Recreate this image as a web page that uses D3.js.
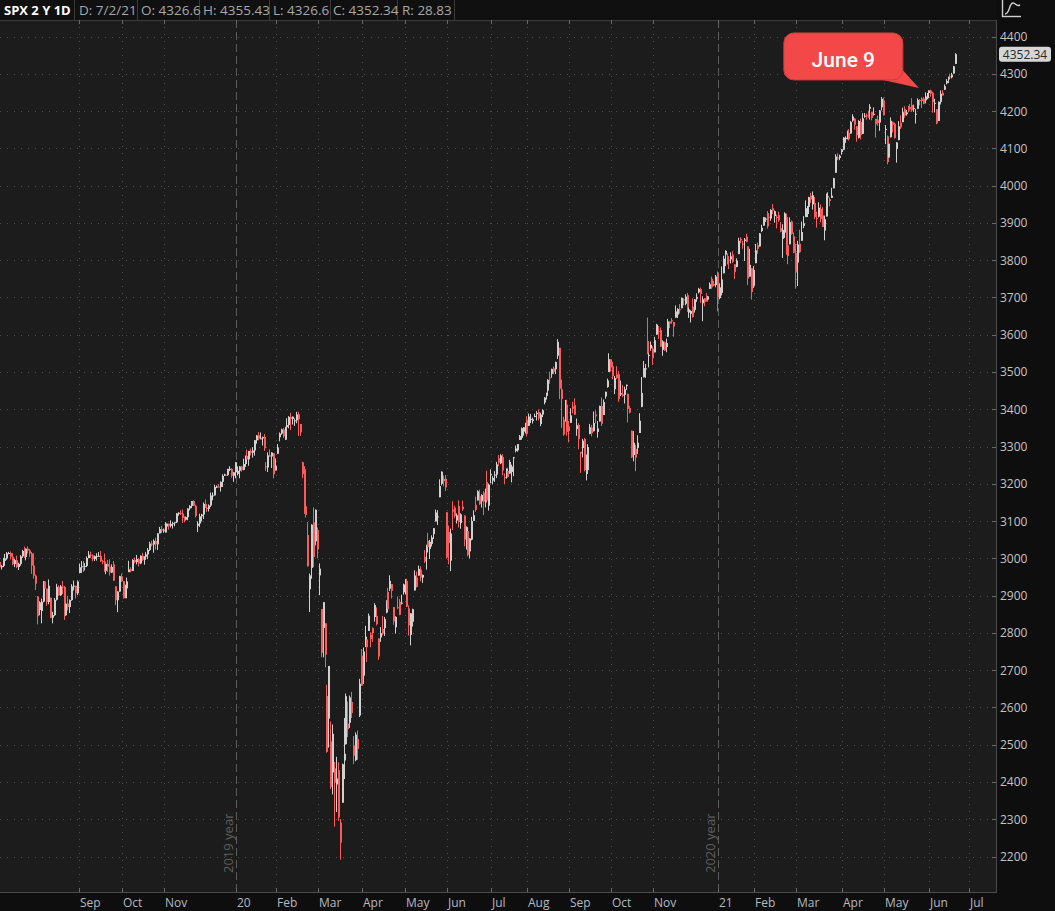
<!DOCTYPE html>
<html><head><meta charset="utf-8">
<script src="https://cdn.jsdelivr.net/npm/d3@7/dist/d3.min.js"></script>
<style>
html,body{margin:0;padding:0;background:#0e0e0e;overflow:hidden}
svg{display:block}
text{font-family:"Open Sans","DejaVu Sans",sans-serif}
</style></head><body>
<svg id="chart" width="1055" height="911"></svg>
<script>
// ---------- DATA (SPX daily, 2019-07-02 .. 2021-07-02, one entry per trading day) ----------
const closes = [
// Jul 2019
2973.01,2995.82,2990.41,2975.95,2979.63,2993.07,2999.91,3013.77,3014.30,3004.04,2984.42,2995.11,2976.61,2985.03,3005.47,3019.56,3003.67,3025.86,3020.97,3013.18,2980.38,
// Aug 2019
2953.56,2932.05,2844.74,2881.77,2883.98,2938.09,2918.65,2882.70,2926.32,2840.60,2847.60,2888.68,2923.65,2900.51,2924.43,2922.95,2847.11,2878.38,2869.16,2887.94,2924.58,2926.46,
// Sep 2019
2906.27,2937.78,2976.00,2978.71,2978.43,2979.39,3000.93,3009.57,3007.39,2997.96,3005.70,3006.73,3006.79,2992.07,2991.78,2966.60,2984.87,2977.62,2961.79,2976.74,
// Oct 2019
2940.25,2887.61,2910.63,2952.01,2938.79,2893.06,2919.40,2938.13,2970.27,2966.15,2995.68,2989.69,2997.95,2986.20,3006.72,2995.99,3004.52,3010.29,3022.55,3039.42,3036.89,3046.77,3037.56,
// Nov 2019
3066.91,3078.27,3074.62,3076.78,3085.18,3093.08,3087.01,3091.84,3094.04,3096.63,3120.46,3122.03,3120.18,3108.46,3103.54,3110.29,3133.64,3140.52,3153.63,3140.98,
// Dec 2019
3113.87,3093.20,3112.76,3117.43,3145.91,3135.96,3132.52,3141.63,3168.57,3168.80,3191.45,3192.52,3191.14,3205.37,3221.22,3224.01,3223.38,3239.91,3240.02,3221.29,3230.78,
// Jan 2020
3257.85,3234.85,3246.28,3237.18,3253.05,3274.70,3265.35,3288.13,3283.15,3289.29,3316.81,3329.62,3320.79,3321.75,3325.54,3295.47,3243.63,3276.24,3273.40,3283.66,3225.52,
// Feb 2020
3248.92,3297.59,3334.69,3345.78,3327.71,3352.09,3357.75,3379.45,3373.94,3380.16,3370.29,3386.15,3373.23,3337.75,3225.89,3128.21,3116.39,2978.76,2954.22,
// Mar 2020
3090.23,3003.37,3130.12,3023.94,2972.37,2746.56,2882.23,2741.38,2480.64,2711.02,2386.13,2529.19,2398.10,2409.39,2304.92,2237.40,2447.33,2475.56,2630.07,2541.47,2626.65,2584.59,
// Apr 2020
2470.50,2526.90,2488.65,2663.68,2659.41,2749.98,2789.82,2761.63,2846.06,2783.36,2799.55,2874.56,2823.16,2736.56,2799.31,2797.80,2836.74,2878.48,2863.39,2939.51,2912.43,
// May 2020
2830.71,2842.74,2868.44,2848.42,2881.19,2929.80,2930.32,2870.12,2820.00,2852.50,2863.70,2953.91,2922.94,2971.61,2948.51,2955.45,2991.77,3036.13,3029.73,3044.31,
// Jun 2020
3055.73,3080.82,3122.87,3112.35,3193.93,3232.39,3207.18,3190.14,3002.10,3041.31,3066.59,3124.74,3113.49,3115.34,3097.74,3117.86,3131.29,3050.33,3083.76,3009.05,3053.24,3100.29,
// Jul 2020
3115.86,3130.01,3179.72,3145.32,3169.94,3152.05,3185.04,3155.22,3197.52,3226.56,3215.57,3224.73,3251.84,3257.30,3276.02,3235.66,3215.63,3239.41,3218.44,3258.44,3246.22,3271.12,
// Aug 2020
3294.61,3306.51,3327.77,3349.16,3351.28,3360.47,3333.69,3380.35,3373.43,3372.85,3381.99,3389.78,3374.85,3385.51,3397.16,3431.28,3443.62,3478.73,3484.55,3508.01,3500.31,
// Sep 2020
3526.65,3580.84,3455.06,3426.96,3331.84,3398.96,3339.19,3340.97,3383.54,3401.20,3385.49,3357.01,3319.47,3281.06,3315.57,3236.92,3246.59,3298.46,3351.60,3335.47,3363.00,
// Oct 2020
3380.80,3348.42,3408.60,3360.97,3419.44,3446.83,3477.14,3534.22,3511.93,3488.67,3483.34,3483.81,3426.92,3443.12,3435.56,3453.49,3465.39,3400.97,3390.68,3271.03,3310.11,3269.96,
// Nov 2020
3310.24,3369.16,3443.44,3510.45,3509.44,3550.50,3545.53,3572.66,3537.01,3585.15,3626.91,3609.53,3567.79,3581.87,3557.54,3577.59,3635.41,3629.65,3638.35,3621.63,
// Dec 2020
3662.45,3669.01,3666.72,3699.12,3691.96,3702.25,3672.82,3668.10,3663.46,3647.49,3694.62,3701.17,3722.48,3709.41,3694.92,3687.26,3690.01,3703.06,3735.36,3727.04,3732.04,3756.07,
// Jan 2021
3700.65,3726.86,3748.14,3803.79,3824.68,3799.61,3801.19,3809.84,3795.54,3768.25,3798.91,3851.85,3853.07,3841.47,3855.36,3849.62,3750.77,3787.38,3714.24,
// Feb 2021
3773.86,3826.31,3830.17,3871.74,3886.83,3915.59,3911.23,3909.88,3916.38,3934.83,3932.59,3931.33,3913.97,3906.71,3876.50,3881.37,3925.43,3829.34,3811.15,
// Mar 2021
3901.82,3870.29,3819.72,3768.47,3841.94,3821.35,3875.44,3898.81,3939.34,3943.34,3968.94,3962.71,3974.12,3915.46,3913.10,3940.59,3910.52,3889.14,3909.52,3974.54,3971.09,3958.55,3972.89,
// Apr 2021
4019.87,4077.91,4073.94,4079.95,4097.17,4128.80,4127.99,4141.59,4124.66,4170.42,4185.47,4163.26,4134.94,4173.42,4134.98,4180.17,4187.62,4186.72,4183.18,4211.47,4181.17,
// May 2021
4192.66,4164.66,4167.59,4201.62,4232.60,4188.43,4152.10,4063.04,4112.50,4173.85,4163.29,4127.83,4115.68,4159.12,4155.86,4197.05,4188.13,4195.99,4200.88,4204.11,
// Jun 2021
4202.04,4208.12,4192.85,4229.89,4226.52,4227.26,4219.55,4239.18,4247.44,4255.15,4246.59,4223.70,4221.86,4166.45,4224.79,4246.44,4241.84,4266.49,4280.70,4290.61,4291.80,4297.50,
// Jul 2021
4319.94,4352.34
];

// opening prices (null = opened at the prior close)
const opens = [
// Jul 2019
2964.66,null,null,null,null,null,null,null,null,null,null,null,null,null,null,null,null,null,null,null,null,
// Aug 2019
null,null,2898.07,2861.18,2858.65,null,null,null,null,2894.15,null,null,null,null,null,null,null,null,null,null,null,null,
// Sep 2019
null,null,2960.60,null,null,null,null,null,null,null,null,null,null,null,null,null,null,null,null,null,
// Oct 2019
2983.69,2924.78,null,null,null,null,null,null,2963.07,null,null,null,null,null,null,null,null,null,null,null,null,null,null,
// Nov 2019
null,null,null,null,null,null,null,null,null,null,null,null,null,null,null,null,null,null,null,null,
// Dec 2019
null,3087.41,null,null,null,null,null,null,null,null,null,null,null,null,null,null,null,null,null,null,null,
// Jan 2020
null,3226.36,null,null,null,null,null,null,null,null,null,null,null,null,null,null,3247.16,null,null,null,3282.33,
// Feb 2020
3235.66,3280.61,3324.91,null,null,3318.28,null,null,null,null,3369.04,null,null,3360.50,3257.61,3238.94,3139.90,3062.54,2916.90,
// Mar 2020
2974.28,3096.46,3045.75,3075.70,2954.20,2863.89,2813.48,2825.60,2630.86,2569.99,2508.59,2425.66,2436.50,2393.48,2431.94,2290.71,2344.44,2457.77,2501.29,2555.87,2558.98,2614.69,
// Apr 2020
2498.08,2458.54,2514.92,2578.28,2738.65,2685.00,2776.99,2782.46,2805.10,2795.64,2812.64,2842.43,2845.62,2784.81,2787.89,2810.42,2812.64,2854.65,2909.96,2918.46,2930.91,
// May 2020
2869.09,2815.01,2868.88,2883.14,2878.26,2908.83,2915.46,2939.50,2865.86,2794.54,2829.95,2913.86,2948.59,2953.63,2969.95,2948.05,3004.08,3015.65,3046.61,3025.17,
// Jun 2020
3038.78,3064.78,3098.90,3111.56,3163.84,3199.92,3213.32,3213.42,3123.53,3071.04,2993.76,3131.00,3136.13,3101.64,3140.29,3094.42,3138.70,3114.40,3046.60,3073.20,3018.59,3050.20,
// Jul 2020
null,3143.64,3155.29,3166.44,3153.07,3176.17,3152.47,3205.08,3141.11,3225.98,3208.36,3224.21,3224.29,3268.52,3254.86,3271.64,3218.58,3219.84,3234.27,3227.22,3231.76,3270.45,
// Aug 2020
3288.26,3289.92,3317.37,3323.17,3340.05,3356.04,3370.34,3355.46,3372.95,3368.66,3380.86,3387.04,3392.51,3360.48,3386.01,3418.09,3435.95,3449.97,3485.14,3494.69,3509.73,
// Sep 2020
3507.44,3543.76,3564.74,3453.60,3371.88,3369.82,3412.56,3352.70,3363.56,3407.73,3411.23,3346.86,3357.38,3285.57,3295.75,3320.11,3226.14,3236.66,3333.90,3350.92,3341.21,
// Oct 2020
3385.87,3338.94,3367.27,3408.74,3384.56,3434.28,3459.67,3500.02,3534.01,3515.47,3453.72,3493.50,3493.66,3439.38,3439.91,3438.50,3464.90,3441.42,3403.15,3342.48,3277.17,3293.59,
// Nov 2020
3296.20,3336.25,3406.46,3485.74,3508.34,3583.04,3543.26,3563.22,3562.67,3552.57,3600.16,3610.31,3612.09,3559.41,3579.31,3566.82,3594.52,3635.50,3638.55,3634.18,
// Dec 2020
3645.87,3653.78,3668.28,3670.94,3694.73,3683.05,3705.98,3659.13,3656.08,3675.27,3666.41,3696.25,3713.65,3722.39,3684.28,3698.08,3693.42,3694.03,3723.03,3750.01,3736.19,3733.27,
// Jan 2021
3764.61,3698.02,3712.20,3764.71,3815.05,3803.14,3801.62,3802.23,3814.98,3788.73,3781.88,3816.22,3857.46,3844.24,3851.68,3862.96,3836.83,3755.75,3778.05,
// Feb 2021
3731.17,3791.84,3840.27,3836.66,3878.30,3892.59,3910.49,3920.78,3916.40,3911.65,3939.61,3918.50,3915.86,3921.16,3885.55,3857.07,3873.71,3915.80,3839.66,
// Mar 2021
3842.51,3903.64,3863.99,3818.53,3793.58,3844.39,3851.93,3891.99,3915.54,3924.52,3942.96,3973.59,3949.57,3953.50,3913.14,3916.48,3937.60,3919.93,3879.34,3917.12,3969.31,3963.34,3967.25,
// Apr 2021
3992.78,4034.44,4075.57,4074.29,4089.95,4096.11,4124.71,4130.10,4141.58,4139.76,4174.14,4179.80,4159.18,4128.42,4170.46,4138.78,4185.03,4188.25,4185.14,4206.14,4198.10,
// May 2021
4191.98,4179.04,4177.06,4169.14,4210.34,4228.29,4150.34,4130.55,4074.99,4129.58,4169.92,4165.94,4098.45,4121.97,4168.61,4170.16,4205.94,4191.59,4201.94,4210.77,
// Jun 2021
4216.52,4206.82,4191.43,4206.05,4229.34,4233.81,4232.99,4228.56,4242.90,4248.31,4255.28,4248.87,4220.37,4204.78,4173.40,4224.61,4249.27,4256.97,4274.45,4284.90,4293.21,4290.65,
// Jul 2021
4300.73,4326.60
];

// high above the candle body, in index points
const upperWicks = [
0,2,4,6,3,8,12,3,3,4,10,3,12,3,3,3,12,0,6,4,4,
33,3,0,3,8,1,0,0,17,0,9,5,8,4,4,15,3,1,21,2,6,14,
0,3,10,14,14,8,4,10,8,3,2,7,10,13,4,21,2,11,20,7,
9,0,1,1,7,0,10,10,23,6,2,6,11,3,1,8,1,6,5,5,8,4,9,
0,6,9,3,12,0,0,10,4,0,1,2,7,11,4,2,0,2,0,2,
3,6,7,2,4,12,8,3,8,8,6,3,7,1,4,3,2,0,7,2,1,
0,12,1,2,14,1,17,0,6,9,0,1,9,16,1,8,11,8,16,1,0,
19,9,3,2,4,1,18,2,11,0,5,7,7,0,2,8,43,35,5,
1,40,1,7,14,0,0,0,30,0,54,25,17,58,21,10,2,96,7,60,5,27,
25,6,23,13,18,11,29,0,6,6,2,5,23,1,16,35,6,9,11,15,0,
0,2,29,8,21,2,14,6,8,0,1,14,16,9,9,1,18,0,22,5,
6,0,8,17,18,1,9,10,0,17,13,22,5,5,15,3,16,1,2,1,1,11,
13,22,3,18,2,4,2,30,3,12,5,9,7,9,3,8,9,2,9,6,5,1,
8,0,3,2,1,3,11,8,14,5,6,5,7,5,3,1,1,2,16,1,5,
1,7,0,26,8,26,13,16,19,12,18,18,5,0,5,3,32,8,9,7,31,
11,20,1,23,7,0,5,16,0,12,6,22,9,34,25,7,1,0,6,0,31,11,
20,20,43,19,12,63,12,9,6,9,2,13,7,3,2,12,7,0,6,0,
16,2,14,0,3,6,6,10,2,22,1,10,3,4,8,0,18,1,5,6,8,4,
5,11,35,8,2,15,9,11,9,0,6,8,4,8,4,8,0,43,0,
10,17,7,1,8,0,3,11,10,2,11,2,6,9,17,15,3,9,21,
13,3,10,25,10,37,28,19,21,2,1,7,10,16,17,15,12,22,10,4,11,5,21,
1,6,11,3,1,1,4,6,10,3,6,1,0,2,9,14,7,5,16,7,0,
17,0,11,1,5,8,10,4,19,9,2,3,1,14,20,12,7,7,12,8,
18,9,13,4,3,3,4,11,1,0,2,3,11,0,1,9,7,5,5,2,7,5,
1,3
];

// low below the candle body, in index points
const lowerWicks = [
9,6,8,10,6,3,3,4,3,7,3,8,3,8,5,4,3,9,8,9,22,
8,17,22,14,33,2,18,10,6,1,15,2,2,1,1,19,12,2,9,16,2,11,
14,5,0,15,15,11,3,1,7,6,5,12,2,2,8,3,9,14,8,1,
1,13,32,0,2,1,0,6,0,4,0,3,6,8,2,3,13,7,12,3,5,22,14,
15,0,7,6,8,16,10,4,12,8,2,6,4,14,7,2,8,5,6,1,
4,17,9,14,12,0,8,7,4,13,0,3,0,12,14,0,0,2,6,5,16,
16,4,20,5,1,8,0,17,7,13,14,9,4,0,19,7,9,12,1,31,11,
0,0,11,3,5,1,6,9,30,15,14,8,45,9,11,9,7,1,61,
29,27,11,24,53,12,79,34,2,78,5,59,118,74,9,46,0,50,1,21,14,13,
23,3,29,4,2,22,15,40,0,22,24,12,3,9,12,4,21,2,3,6,20,
9,17,5,1,2,6,12,0,27,28,13,0,1,0,10,14,4,46,6,27,
7,13,0,22,0,4,14,9,3,57,28,49,5,8,15,15,4,18,23,4,19,2,
0,5,0,2,17,36,16,6,13,25,10,19,9,10,2,13,16,6,2,0,28,50,
4,4,0,5,11,21,7,0,10,7,2,17,5,6,7,5,10,6,16,10,7,
13,9,28,77,3,3,10,30,0,12,1,18,27,52,25,4,17,8,1,8,1,
19,15,0,6,0,6,2,0,11,8,13,3,7,4,3,23,13,36,2,2,17,36,
16,0,1,0,24,3,31,6,18,0,0,21,0,16,1,14,0,12,9,27,
0,9,10,0,13,4,12,14,23,2,7,8,3,24,48,11,1,5,0,4,2,6,
38,3,7,0,31,11,25,11,3,19,1,0,8,11,54,2,18,0,20,
6,0,13,0,3,0,8,25,26,6,9,18,29,4,2,51,14,15,22,
0,2,1,45,63,2,0,6,0,9,19,9,14,5,26,2,9,0,26,0,26,14,0,
0,0,6,6,7,1,10,6,4,0,3,13,17,2,11,0,3,10,1,29,6,
4,36,7,22,9,0,39,6,0,0,21,2,37,0,4,0,6,4,4,1,
4,9,25,0,11,19,1,8,11,14,8,28,24,2,0,7,0,0,3,10,6,3,
0,0
];

// axis content
const priceTicks = [2200,2300,2400,2500,2600,2700,2800,2900,3000,3100,3200,3300,3400,3500,3600,3700,3800,3900,4000,4100,4200,4300,4400];
const monthTickLabels = ["Sep","Oct","Nov","20","Feb","Mar","Apr","May","Jun","Jul","Aug","Sep","Oct","Nov","21","Feb","Mar","Apr","May","Jun","Jul"];
const monthTickBars   = [44.6,67.2,89.2,127,148,170,193,215.7,238,261,280,302,324,346,380,399,421,445,467,491,512];
const yearBreakBars = [127, 380];
const yearBreakLabels = ["2019 year","2020 year"];
const headerItems = ["SPX 2 Y 1D","D: 7/2/21","O: 4326.6","H: 4355.43","L: 4326.6","C: 4352.34","R: 28.83"];
const lastPrice = 4352.34;
const calloutText = "June 9";
const calloutBar = 487;
const calloutPrice = 4262;

// ---------- DRAWING ----------
const W = 1055, H = 911;
const plot = {left:0, right:996, top:20, bottom:892};
const UP = "#d0d0d0", DOWN = "#ff5a5a";
const svg = d3.select("#chart");

svg.append("rect").attr("width", W).attr("height", H).attr("fill", "#0e0e0e");
svg.append("rect").attr("x", plot.left).attr("y", plot.top)
  .attr("width", plot.right - plot.left).attr("height", plot.bottom - plot.top).attr("fill", "#1c1c1c");

const x = d3.scaleLinear().domain(yearBreakBars).range([236, 718]);
const y = d3.scaleLinear().domain([2200, 4400]).range([856.5, 36.5]);

const candles = closes.map((c, i) => {
  const o = opens[i] != null ? opens[i] : (i > 0 ? closes[i - 1] : c);
  const top = Math.max(o, c), bot = Math.min(o, c);
  return {i, o, c, h: top + upperWicks[i], l: bot - lowerWicks[i], up: c >= o};
});
if (opens.length !== closes.length || upperWicks.length !== closes.length || lowerWicks.length !== closes.length)
  console.warn("length mismatch", closes.length, opens.length, upperWicks.length, lowerWicks.length);

const defs = svg.append("defs");
defs.append("clipPath").attr("id", "plotclip").append("rect")
  .attr("x", plot.left).attr("y", plot.top).attr("width", plot.right - plot.left).attr("height", plot.bottom - plot.top);

// grid
const grid = svg.append("g");
grid.selectAll("line.h").data(priceTicks).join("line")
  .attr("x1", plot.left).attr("x2", plot.right)
  .attr("y1", d => Math.round(y(d)) + 0.5).attr("y2", d => Math.round(y(d)) + 0.5)
  .attr("stroke", "#4e4e4e").attr("stroke-dasharray", "1,6");
const monthTicks = monthTickBars.map((b, k) => ({b, label: monthTickLabels[k], year: yearBreakBars.includes(b)}))
  .filter(d => x(d.b) <= plot.right);
grid.selectAll("line.v").data(monthTicks.filter(d => !d.year)).join("line")
  .attr("x1", d => Math.round(x(d.b)) + 0.5).attr("x2", d => Math.round(x(d.b)) + 0.5)
  .attr("y1", plot.top).attr("y2", plot.bottom)
  .attr("stroke", "#4e4e4e").attr("stroke-dasharray", "1,6");
grid.selectAll("line.yr").data(yearBreakBars).join("line")
  .attr("x1", d => Math.round(x(d)) + 0.5).attr("x2", d => Math.round(x(d)) + 0.5)
  .attr("y1", plot.top).attr("y2", plot.bottom)
  .attr("stroke", "#5c5c5c").attr("stroke-dasharray", "8,4");
grid.selectAll("text.yr").data(yearBreakBars).join("text")
  .attr("transform", d => `translate(${Math.round(x(d)) - 3},873) rotate(-90)`)
  .attr("fill", "#5e5e5e").attr("font-size", 13).text((d, k) => yearBreakLabels[k]);

// candles
const cg = svg.append("g").attr("clip-path", "url(#plotclip)");
cg.selectAll("rect.wick").data(candles).join("rect")
  .attr("x", d => Math.round(x(d.i)) - 1).attr("width", 1)
  .attr("y", d => y(d.h)).attr("height", d => Math.max(1, y(d.l) - y(d.h)))
  .attr("fill", d => d.up ? UP : DOWN);
cg.selectAll("rect.body").data(candles).join("rect")
  .attr("x", d => Math.round(x(d.i)) - 1).attr("width", 2)
  .attr("y", d => y(Math.max(d.o, d.c)))
  .attr("height", d => Math.max(1, y(Math.min(d.o, d.c)) - y(Math.max(d.o, d.c))))
  .attr("fill", d => d.up ? UP : DOWN);

// frame
svg.append("line").attr("x1", 0).attr("x2", plot.right).attr("y1", plot.top + 0.5).attr("y2", plot.top + 0.5).attr("stroke", "#3a3a3a");
svg.append("line").attr("x1", 0).attr("x2", plot.right + 1).attr("y1", plot.bottom + 0.5).attr("y2", plot.bottom + 0.5).attr("stroke", "#4a4a4a");
svg.append("line").attr("x1", plot.right + 0.5).attr("x2", plot.right + 0.5).attr("y1", plot.top).attr("y2", plot.bottom + 1).attr("stroke", "#4a4a4a");

// x axis ticks + labels
const xa = svg.append("g");
xa.selectAll("line.bt").data(monthTicks).join("line")
  .attr("x1", d => Math.round(x(d.b)) + 0.5).attr("x2", d => Math.round(x(d.b)) + 0.5)
  .attr("y1", plot.bottom - 4).attr("y2", plot.bottom).attr("stroke", "#6a6a6a");
xa.selectAll("line.tt").data(monthTicks).join("line")
  .attr("x1", d => Math.round(x(d.b)) + 0.5).attr("x2", d => Math.round(x(d.b)) + 0.5)
  .attr("y1", plot.top).attr("y2", plot.top + 4).attr("stroke", "#6a6a6a");
xa.selectAll("text").data(monthTicks).join("text")
  .attr("x", d => Math.round(x(d.b)) + 1).attr("y", 907)
  .attr("fill", "#b4b9c2").attr("font-size", 12).text(d => d.label);

// y axis
const ya = svg.append("g");
ya.selectAll("line").data(priceTicks).join("line")
  .attr("x1", plot.right - 4).attr("x2", plot.right)
  .attr("y1", d => Math.round(y(d)) + 0.5).attr("y2", d => Math.round(y(d)) + 0.5)
  .attr("stroke", "#6a6a6a");
ya.selectAll("text").data(priceTicks).join("text")
  .attr("x", 1000).attr("y", d => y(d) + 4.5)
  .attr("fill", "#c4c4c4").attr("font-size", 12).text(d => d);

// last price marker
const ly = y(lastPrice);
svg.append("rect").attr("x", 999).attr("y", ly - 7.5).attr("width", 52).attr("height", 15).attr("rx", 3)
  .attr("fill", "#d6d6d6");
svg.append("text").attr("x", 1025).attr("y", ly + 4.3).attr("text-anchor", "middle")
  .attr("fill", "#2a2a2a").attr("font-size", 12).text(lastPrice.toFixed(2));

// header
const header = svg.append("g");
header.append("rect").attr("x", 0).attr("y", 0).attr("width", plot.right).attr("height", 20).attr("fill", "#101010");
const headerX = [4, 79, 141, 203, 273, 333, 402];
const sepX = [74, 137, 199, 269, 330, 397, 454];
header.selectAll("line").data(sepX).join("line")
  .attr("x1", d => d + 0.5).attr("x2", d => d + 0.5).attr("y1", 0).attr("y2", 20).attr("stroke", "#3a3a3a");
header.selectAll("text").data(headerItems).join("text")
  .attr("x", (d, k) => headerX[k]).attr("y", 15)
  .attr("font-size", (d, k) => k === 0 ? 13 : 13.5)
  .attr("font-weight", (d, k) => k === 0 ? 700 : 400)
  .attr("fill", (d, k) => k === 0 ? "#ffffff" : "#a8a8a8")
  .text(d => d);

// top-right study icon
const icon = svg.append("g").attr("stroke", "#cfcfcf").attr("fill", "none").attr("stroke-width", 1.4);
icon.append("line").attr("x1", 1002.5).attr("x2", 1002.5).attr("y1", 0).attr("y2", 17);
icon.append("line").attr("x1", 1002).attr("x2", 1021).attr("y1", 16.5).attr("y2", 16.5);
icon.append("path").attr("d", "M1005,14 C1010,14 1009,3 1013,3 C1016,3 1016,7 1020,5");

// callout
const tipX = x(calloutBar) - 3, tipY = y(calloutPrice);
const cal = svg.append("g");
cal.append("path")
  .attr("d", `M${tipX - 36},${tipY - 8} L${tipX - 18},${tipY - 20} L${tipX},${tipY} Z`)
  .attr("fill", "#f24848");
cal.append("rect").attr("x", tipX - 135).attr("y", tipY - 55).attr("width", 119).attr("height", 47).attr("rx", 10)
  .attr("fill", "#f24848").attr("stroke", "#d23a3a").attr("stroke-width", 1);
cal.append("text").attr("x", tipX - 75.5).attr("y", tipY - 21).attr("text-anchor", "middle")
  .style("font-family", "Roboto, 'Liberation Sans', Arial, sans-serif").style("font-size", "21px").style("font-weight", "500")
  .attr("fill", "#ffffff").text(calloutText);
</script>
</body></html>
